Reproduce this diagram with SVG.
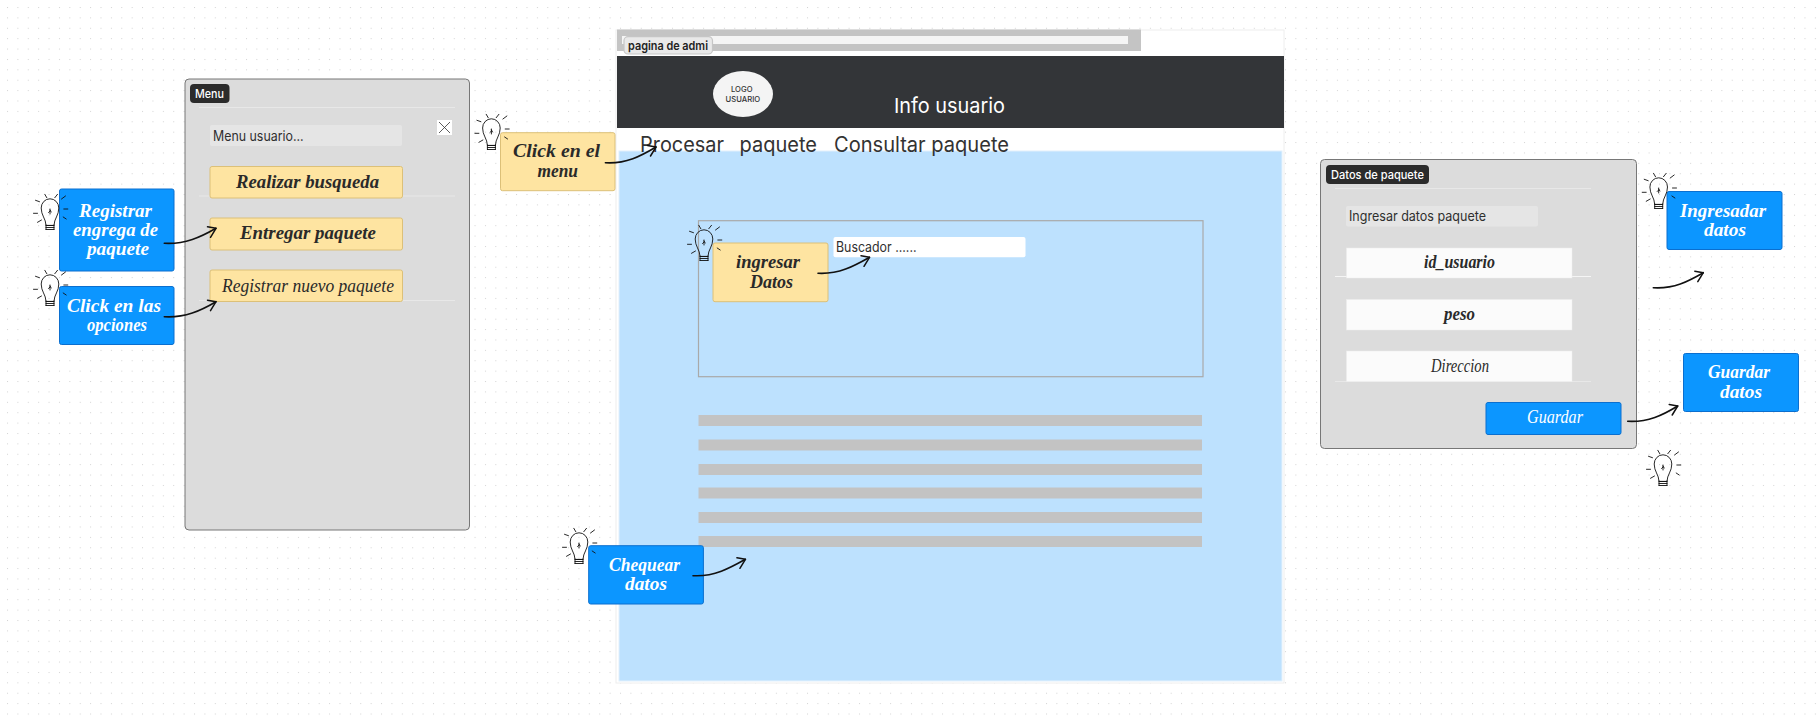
<svg xmlns="http://www.w3.org/2000/svg" width="1817" height="720" viewBox="0 0 1817 720">
<style>
.ui{font-family:"Inter","Liberation Sans",sans-serif}
.hand{font-family:"Liberation Serif",serif;font-style:italic;font-size:19px;font-weight:700}
.thin{font-weight:400}
.w{fill:#fff}.k{fill:#2a2a2a}
.panel{fill:#dcdcdc;stroke:#777;stroke-width:1}
.tag{fill:#2b2b2b}
.tagt{font-size:12px;fill:#fff;font-weight:500}
.div{fill:#e8e8e8}
.field{fill:#e5e5e5}
.fieldt{font-size:14px;fill:#2e2e2e}
.y{fill:#fee4a1;stroke:#dcc078;stroke-width:1}
.b{fill:#0c96ff;stroke:#0b6fcf;stroke-width:1}
.in{fill:#fbfbfb;stroke:#ececec;stroke-width:.5}
.bar{fill:#c3c3c3}
.conn{fill:none;stroke:#111;stroke-width:1.6;stroke-linecap:round;marker-end:url(#head)}
.bulb path{fill:none;stroke:#111;stroke-width:.9;stroke-linecap:round;stroke-linejoin:round}
.nav{font-size:21px;fill:#333}
</style>
<defs>
<pattern id="dots" x="7" y="7" width="10.39" height="10.39" patternUnits="userSpaceOnUse"><rect width="1" height="1" fill="#d2d2d2"/></pattern>
<marker id="head" markerUnits="userSpaceOnUse" markerWidth="12" markerHeight="12" refX="0" refY="0" orient="0" overflow="visible"><path d="M-8.5,-1.5L0,0L-5.5,9" fill="none" stroke="#111" stroke-width="1.5" stroke-linecap="round" stroke-linejoin="round"/></marker>
<g id="bulbshape" class="bulb">
<path d="M-4,16C-4,10 -9,6 -8.8,-1A8.8,9.2 0 0 1 8.8,-1C9,6 4,10 4,16Z"/>
<path d="M-4,16.5H4M-4,18.5H4M-4,20.5H4M-4,16V20.5M4,16V20.5"/>
<path d="M0,0V5M0,2L-1.5,3.5M0,1L1.2,3"/>
<path d="M-14.5,-8.7L-10.5,-7.3M-5.2,-14.7L-3.2,-11.3M4.8,-11.3L7.5,-14.7M11.5,-10L15.5,-13M13.8,0H17.8M13.2,8L16.2,10M-16.5,4.3H-12.5M-12.5,13.3L-8.5,11"/>
</g>
</defs>
<rect width="1817" height="720" fill="#fff"/>
<rect width="1817" height="720" fill="url(#dots)"/>

<g id="page">
<rect x="616" y="30" width="668" height="653" fill="#fff" stroke="#eee"/>
<rect x="617" y="29.5" width="524" height="21.5" fill="#c4c4c4"/>
<rect x="622" y="36" width="506" height="8" fill="#f5f5f5"/>
<rect x="624" y="36.7" width="88.5" height="17.3" rx="4" fill="#e9e9e9" stroke="#c6c6c6" stroke-width="1.2"/>
<text class="ui" x="628" y="50" font-size="12" font-weight="600" fill="#222" textLength="80" lengthAdjust="spacingAndGlyphs">pagina de admi</text>
<rect x="617" y="56" width="667" height="72" fill="#333538"/>
<ellipse cx="743" cy="94" rx="30" ry="23" fill="#f4f4f4"/>
<text class="ui" x="731" y="92" font-size="7.5" font-weight="500" fill="#333" textLength="21.5" lengthAdjust="spacingAndGlyphs">LOGO</text>
<text class="ui" x="725.6" y="102.3" font-size="7.5" font-weight="500" fill="#333" textLength="34.5" lengthAdjust="spacingAndGlyphs">USUARIO</text>
<text class="ui" x="894" y="113" font-size="20.5" fill="#fff" textLength="111" lengthAdjust="spacingAndGlyphs">Info usuario</text>
<rect x="619" y="151" width="663" height="530" fill="#bde1fe" stroke="#e2f0fc"/>
<text class="ui nav" x="640" y="151.5" textLength="84" lengthAdjust="spacingAndGlyphs">Procesar</text>
<text class="ui nav" x="739.5" y="151.5" textLength="77.5" lengthAdjust="spacingAndGlyphs">paquete</text>
<text class="ui nav" x="834" y="151.5" textLength="175" lengthAdjust="spacingAndGlyphs">Consultar paquete</text>
<rect x="698.5" y="220.7" width="504.5" height="156" fill="none" stroke="#a9a9a9" stroke-width="1.2"/>
<rect x="833.5" y="237" width="192" height="20.3" rx="2" fill="#fff"/>
<text class="ui" x="836" y="252" font-size="14" fill="#2e2e2e" textLength="80.5" lengthAdjust="spacingAndGlyphs">Buscador ......</text>
<rect class="bar" x="698.5" y="415" width="503.5" height="11"/>
<rect class="bar" x="698.5" y="439.5" width="503.5" height="11"/>
<rect class="bar" x="698.5" y="464" width="503.5" height="11"/>
<rect class="bar" x="698.5" y="487.5" width="503.5" height="11"/>
<rect class="bar" x="698.5" y="512" width="503.5" height="11"/>
<rect class="bar" x="698.5" y="536" width="503.5" height="11"/>
</g>

<g id="menu-panel">
<rect class="panel" x="185" y="79" width="284.5" height="451" rx="4"/>
<rect class="tag" x="190" y="84" width="39.5" height="19" rx="4"/>
<text class="ui tagt" x="195" y="98" textLength="29" lengthAdjust="spacingAndGlyphs">Menu</text>
<rect class="div" x="199" y="107" width="256" height="1"/>
<rect class="div" x="199" y="195.5" width="256" height="1"/>
<rect class="div" x="199" y="300" width="256" height="1"/>
<rect class="field" x="210" y="125" width="192" height="21" rx="2"/>
<text class="ui fieldt" x="213" y="141" textLength="90.7" lengthAdjust="spacingAndGlyphs">Menu usuario...</text>
<rect x="437" y="120" width="15" height="15" fill="#fff"/>
<path d="M439,122L450,133M450,122L439,133" stroke="#333" stroke-width=".8"/>
<g id="btn-realizar"><rect class="y" x="210" y="166.5" width="192.5" height="31.5" rx="2"/><text class="hand k" x="236" y="187.7" textLength="143" lengthAdjust="spacingAndGlyphs">Realizar busqueda</text></g>
<g id="btn-entregar"><rect class="y" x="210" y="218" width="192.5" height="32" rx="2"/><text class="hand k" x="240" y="239" textLength="136" lengthAdjust="spacingAndGlyphs">Entregar paquete</text></g>
<g id="btn-registrar"><rect class="y" x="210" y="270" width="192.5" height="31.5" rx="2"/><text class="hand k thin" x="222" y="291.7" textLength="172" lengthAdjust="spacingAndGlyphs">Registrar nuevo paquete</text></g>
</g>

<g id="data-panel">
<rect class="panel" x="1320.5" y="159.5" width="316" height="289" rx="4"/>
<rect class="tag" x="1326" y="165" width="103" height="19" rx="4"/>
<text class="ui tagt" x="1331" y="179" textLength="93" lengthAdjust="spacingAndGlyphs">Datos de paquete</text>
<rect class="div" x="1335" y="188" width="256" height="1"/>
<rect x="1335" y="276" width="256" height="1" fill="#f5f5f5"/>
<rect class="div" x="1335" y="381" width="256" height="1"/>
<rect class="field" x="1346" y="206" width="192" height="20.5" rx="2"/>
<text class="ui fieldt" x="1349" y="221" textLength="137" lengthAdjust="spacingAndGlyphs">Ingresar datos paquete</text>
<g id="in-id"><rect class="in" x="1346.5" y="248" width="225.5" height="30"/><text class="hand k" x="1424" y="268" textLength="71" lengthAdjust="spacingAndGlyphs">id_usuario</text></g>
<g id="in-peso"><rect class="in" x="1346.5" y="299.5" width="225.5" height="30.5"/><text class="hand k" x="1444" y="320" textLength="31" lengthAdjust="spacingAndGlyphs">peso</text></g>
<g id="in-dir"><rect class="in" x="1346.5" y="351" width="225.5" height="30.5"/><text class="hand k thin" x="1431" y="372" textLength="58" lengthAdjust="spacingAndGlyphs">Direccion</text></g>
<g id="btn-guardar"><rect class="b" x="1486" y="402.5" width="135" height="32" rx="2"/><text class="hand w thin" x="1527" y="423" textLength="56" lengthAdjust="spacingAndGlyphs">Guardar</text></g>
</g>

<g id="note-registrar"><rect class="b" x="59.5" y="189" width="114.5" height="82" rx="2"/>
<text class="hand w" x="79" y="216.7" textLength="73" lengthAdjust="spacingAndGlyphs">Registrar</text>
<text class="hand w" x="73" y="236" textLength="85" lengthAdjust="spacingAndGlyphs">engrega de</text>
<text class="hand w" x="87" y="255" textLength="62" lengthAdjust="spacingAndGlyphs">paquete</text></g>
<g id="note-opciones"><rect class="b" x="59.5" y="286.5" width="114.5" height="58" rx="2"/>
<text class="hand w" x="67" y="311.7" textLength="94" lengthAdjust="spacingAndGlyphs">Click en las</text>
<text class="hand w" x="87" y="330.7" textLength="60" lengthAdjust="spacingAndGlyphs">opciones</text></g>
<g id="note-menu"><rect class="y" x="500.5" y="132.7" width="114.5" height="58" rx="2"/>
<text class="hand k" x="513" y="157" textLength="87" lengthAdjust="spacingAndGlyphs">Click en el</text>
<text class="hand k" x="537.5" y="176.7" textLength="40.5" lengthAdjust="spacingAndGlyphs">menu</text></g>
<g id="note-ingresar"><rect class="y" x="713" y="243" width="115" height="58.7" rx="2"/>
<text class="hand k" x="736" y="268" textLength="64" lengthAdjust="spacingAndGlyphs">ingresar</text>
<text class="hand k" x="750" y="287.7" textLength="43" lengthAdjust="spacingAndGlyphs">Datos</text></g>
<g id="note-chequear"><rect class="b" x="588.7" y="545.7" width="114.7" height="58.3" rx="2"/>
<text class="hand w" x="609" y="570.7" textLength="71" lengthAdjust="spacingAndGlyphs">Chequear</text>
<text class="hand w" x="625" y="590" textLength="42" lengthAdjust="spacingAndGlyphs">datos</text></g>
<g id="note-ingresadar"><rect class="b" x="1667" y="191.5" width="115" height="58" rx="2"/>
<text class="hand w" x="1680" y="216.7" textLength="86" lengthAdjust="spacingAndGlyphs">Ingresadar</text>
<text class="hand w" x="1704" y="236" textLength="42" lengthAdjust="spacingAndGlyphs">datos</text></g>
<g id="note-guardar"><rect class="b" x="1683.5" y="353.5" width="115" height="58" rx="2"/>
<text class="hand w" x="1708" y="378" textLength="62" lengthAdjust="spacingAndGlyphs">Guardar</text>
<text class="hand w" x="1720" y="397.7" textLength="42" lengthAdjust="spacingAndGlyphs">datos</text></g>

<g id="bulbs">
<use href="#bulbshape" x="50" y="209"/>
<use href="#bulbshape" x="50" y="285"/>
<use href="#bulbshape" x="491.4" y="129"/>
<use href="#bulbshape" x="704" y="240"/>
<use href="#bulbshape" x="579" y="543"/>
<use href="#bulbshape" x="1658.7" y="188"/>
<use href="#bulbshape" x="1663" y="465"/>
</g>

<g id="connectors">
<path class="conn" d="M164.3,243.3C185,244.5 201,237 216,228.3"/>
<path class="conn" d="M164.3,316.7C185,318 201,310.5 216,301.7"/>
<path class="conn" d="M605.4,162.7C626,164 641,156 656,147"/>
<path class="conn" d="M818,273.3C839,274.5 854,266 869.5,257.3"/>
<path class="conn" d="M1653.3,287.7C1674,289 1688,281.5 1703.3,272.7"/>
<path class="conn" d="M1627.7,421.3C1648,422.5 1663,415 1677.7,406"/>
<path class="conn" d="M693,575.7C714,577 730,568 745.4,559.3"/>
</g>
</svg>
